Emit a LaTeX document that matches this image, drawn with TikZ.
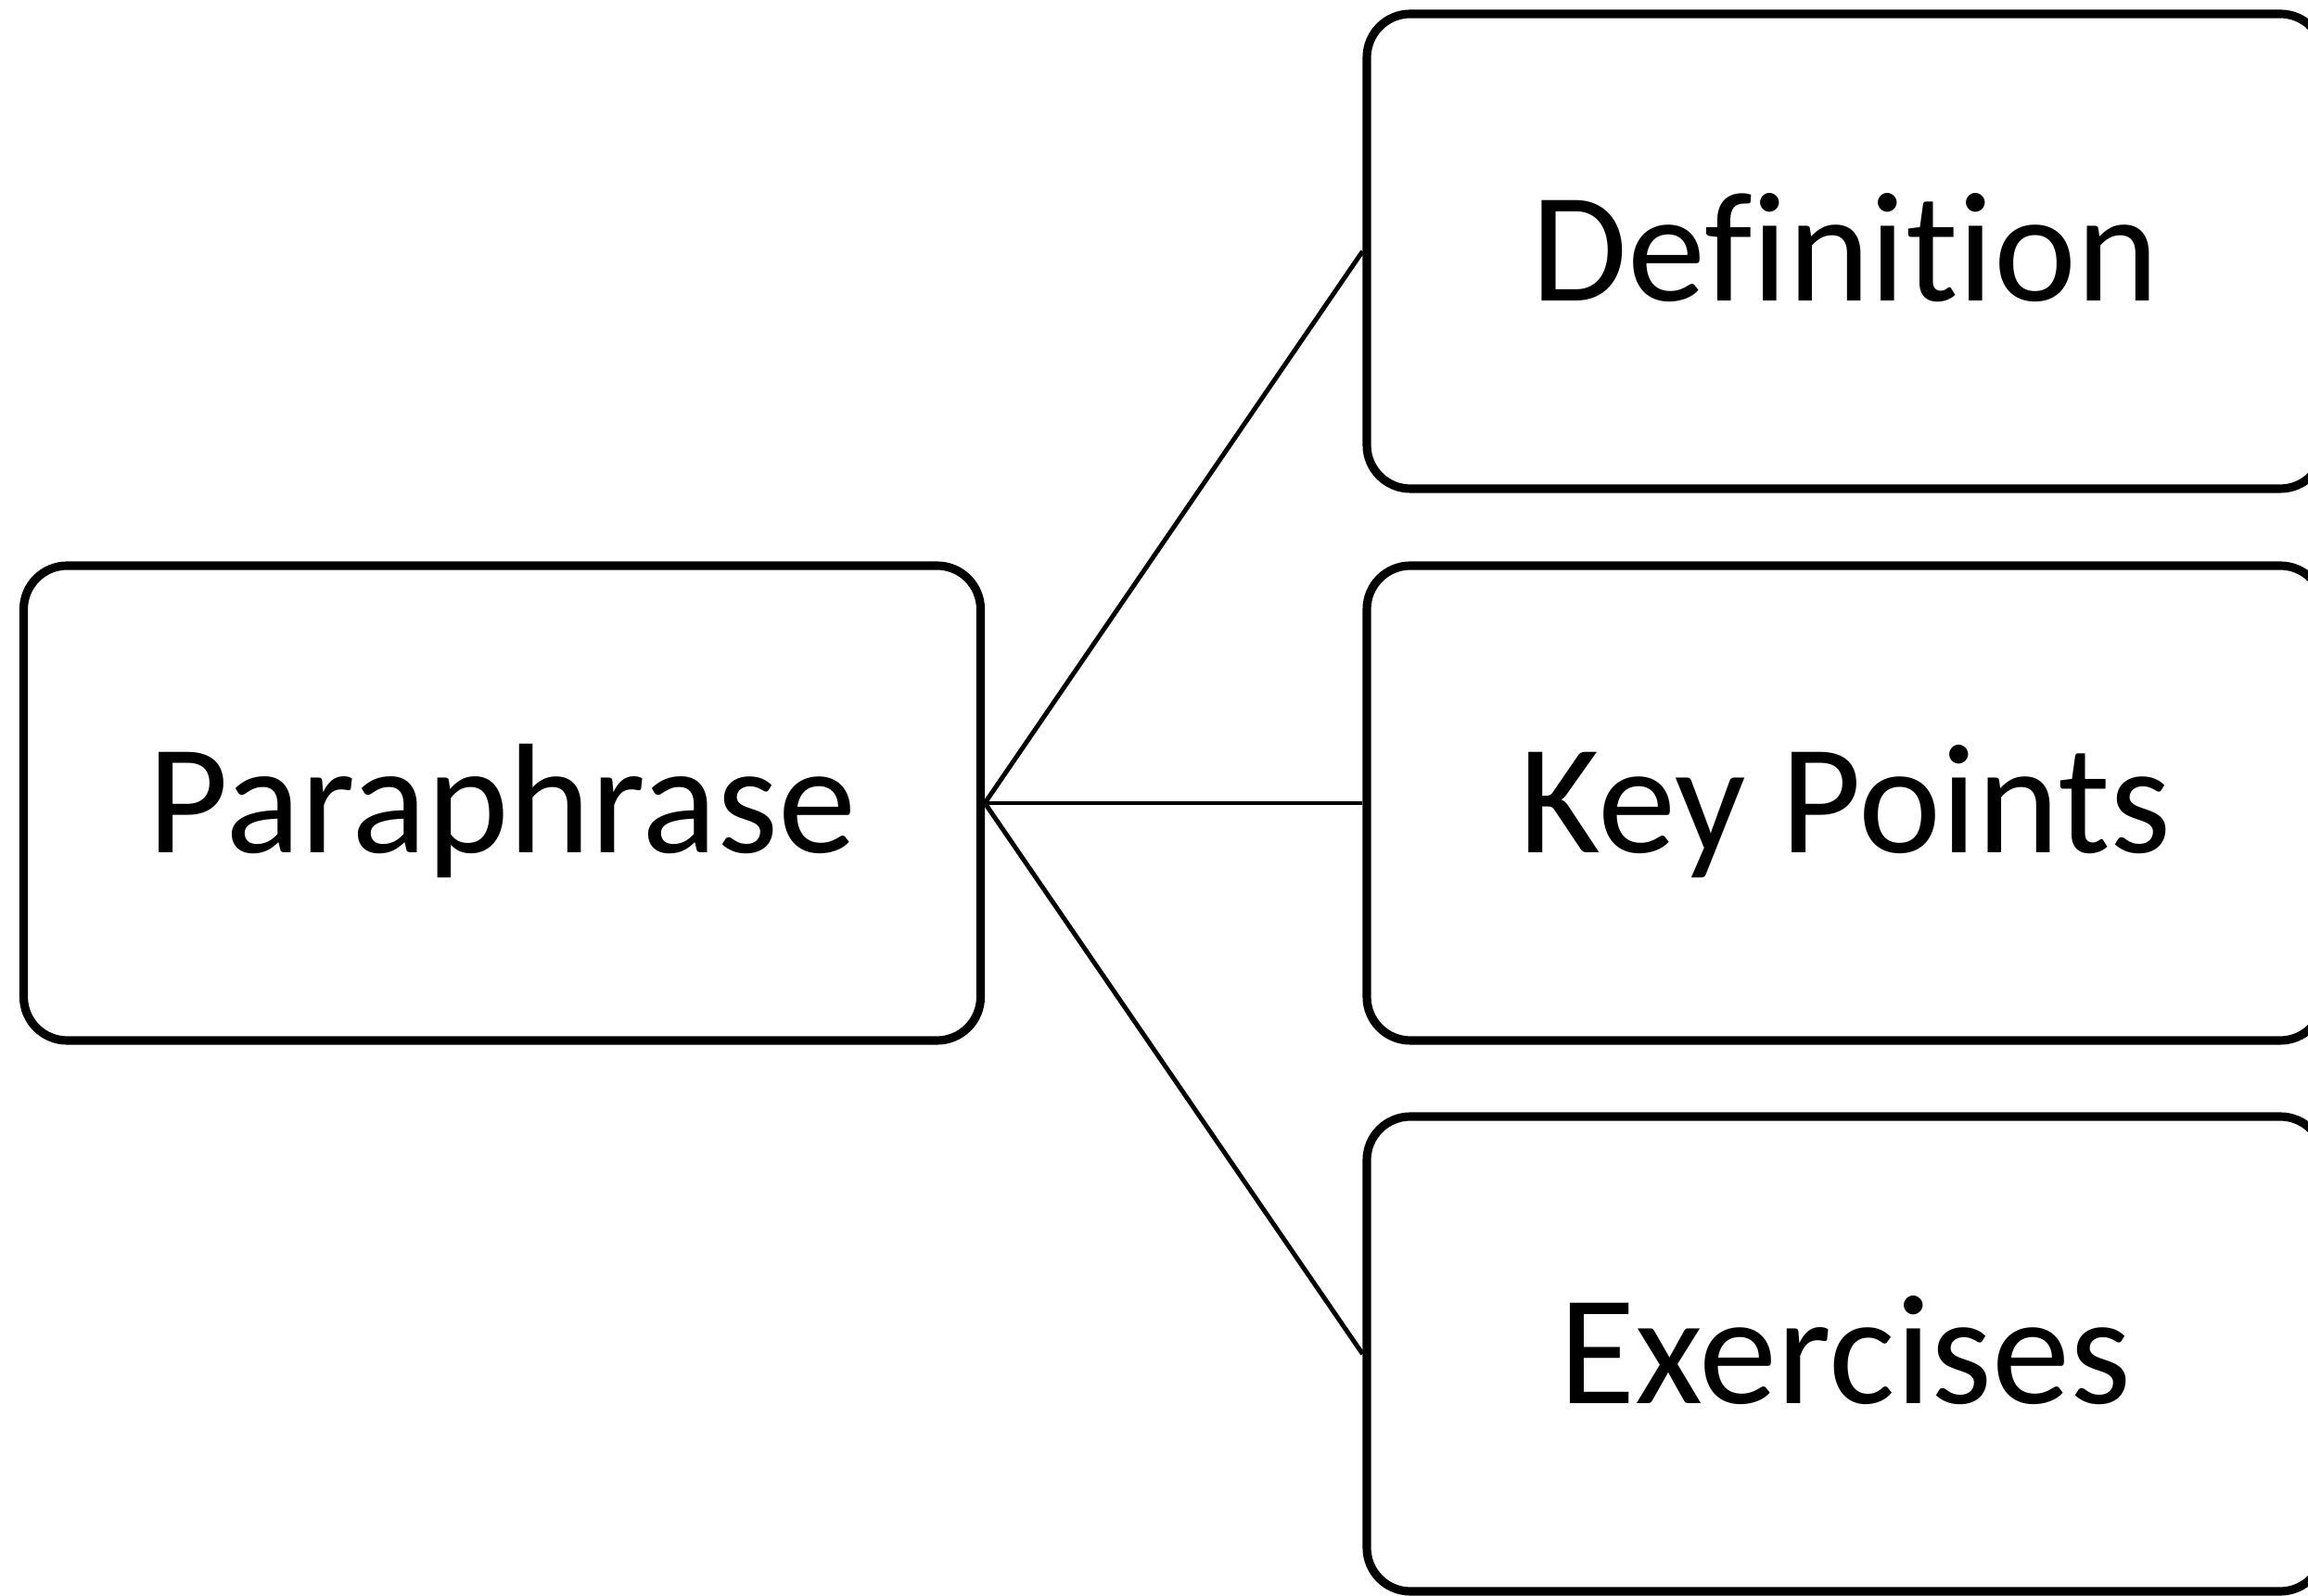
\documentclass[tikz,border=0pt]{standalone}
\usepackage{fontspec}
\setmainfont{Carlito}[Ligatures={NoCommon}]
\usetikzlibrary{shadows}
\begin{document}
\begin{tikzpicture}[
  boite/.style={draw, line width=2.6pt, rounded corners=0.47cm, fill=white,
    minimum width=10.32cm, minimum height=5.12cm, inner sep=0pt,
    text height=1.07cm, text depth=0cm,
    font=\fontsize{48}{57}\selectfont,
    drop shadow={opacity=0.3, shadow xshift=0.025cm, shadow yshift=-0.03cm}},
  lien/.style={line width=1.4pt}]
% \draw[help lines, gray] (0,0) grid (25,17);
\clip (0,0) rectangle (24.89,17.21) ;
\node (para) [boite] at (5.415,8.55) {Paraphrase} ;
\node (def) [boite] at (19.90,14.50) {Definition} ;
\node (key) [boite] at (19.90,8.55) {Key Points} ;
\node (exo) [boite] at (19.90,2.61) {Exercises} ;
\draw [lien] (para.east) -- (def.west) ;
\draw [lien] (para.east) -- (key.west) ;
\draw [lien] (para.east) -- (exo.west) ;
\end{tikzpicture}
\end{document}
